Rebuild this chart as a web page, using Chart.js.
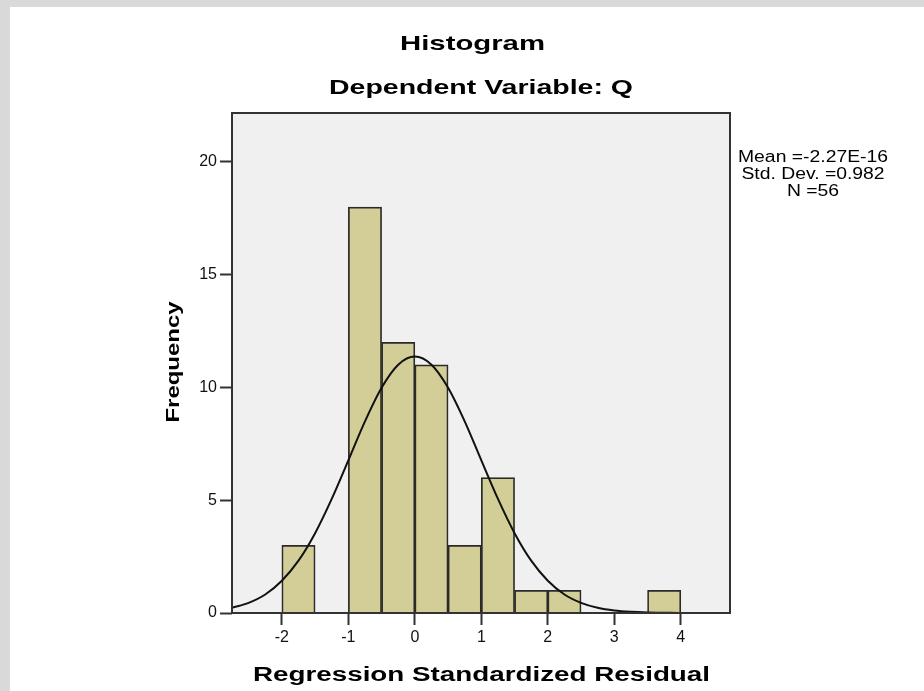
<!DOCTYPE html>
<html>
<head>
<meta charset="utf-8">
<title>Histogram</title>
<script src="https://cdn.jsdelivr.net/npm/chart.js@4.4.1/dist/chart.umd.min.js"></script>
<style>
  html, body { margin: 0; padding: 0; background: #fff; }
  #wrap { width: 924px; height: 691px; position: relative; }
</style>
</head>
<body>
<div id="wrap"><canvas id="histChart" width="924" height="691"></canvas></div>
<script>
// histogram bins (width 0.5), centres and counts
const binCenters = [-1.75, -0.75, -0.25, 0.25, 0.75, 1.25, 1.75, 2.25, 3.75];
const binCounts  = [3, 18, 12, 11, 3, 6, 1, 1, 1];

// normal curve, every 0.25
const curveX = [-2.75, -2.5, -2.25, -2, -1.75, -1.5, -1.25, -1, -0.75, -0.5, -0.25, 0,
                0.25, 0.5, 0.75, 1, 1.25, 1.5, 1.75, 2, 2.25, 2.5, 2.75, 3, 3.25, 3.5, 3.75, 4, 4.25, 4.5, 4.75];
const curveY = [0.23, 0.45, 0.82, 1.43, 2.32, 3.54, 5.06, 6.77, 8.50, 9.99, 11.01, 11.37,
                11.01, 9.99, 8.50, 6.77, 5.06, 3.54, 2.32, 1.43, 0.82, 0.45, 0.23, 0.11, 0.05, 0.02, 0.01, 0, 0, 0, 0];

const xTicks = [-2, -1, 0, 1, 2, 3, 4];
const yTicks = [0, 5, 10, 15, 20];

const titleText    = 'Histogram';
const subtitleText = 'Dependent Variable: Q';
const xTitleText   = 'Regression Standardized Residual';
const yTitleText   = 'Frequency';
const statsLines   = ['Mean =-2.27E-16', 'Std. Dev. =0.982', 'N =56'];

document.addEventListener('DOMContentLoaded', () => {
  const canvas = document.getElementById('histChart');
  if (!canvas) return;

  const FONT = 'Arial, "Liberation Sans", sans-serif';

  // draws text centred at (cx, cy), squeezed/stretched to a given width
  function fitText(ctx, text, cx, cy, width, font, angle) {
    ctx.save();
    ctx.font = font;
    const w = ctx.measureText(text).width;
    ctx.translate(cx, cy);
    if (angle) ctx.rotate(angle);
    ctx.scale(width / w, 1);
    ctx.textAlign = 'center';
    ctx.textBaseline = 'middle';
    ctx.fillStyle = '#000';
    ctx.fillText(text, 0, 0);
    ctx.restore();
  }

  const decor = {
    id: 'decor',
    beforeDraw(chart) {
      const { ctx, chartArea: a } = chart;
      ctx.save();
      ctx.fillStyle = '#d9d9d9';
      ctx.fillRect(0, 0, chart.width, chart.height);
      ctx.fillStyle = '#fff';
      ctx.fillRect(10, 7, chart.width - 10, chart.height - 7);
      ctx.fillStyle = '#f0f0f0';
      ctx.fillRect(a.left, a.top, a.right - a.left, a.bottom - a.top);
      ctx.restore();
    },
    afterDatasetsDraw(chart) {
      const { ctx, chartArea: a } = chart;
      ctx.save();
      ctx.strokeStyle = '#333';
      ctx.lineWidth = 2;
      ctx.strokeRect(a.left, a.top, a.right - a.left, a.bottom - a.top);
      ctx.restore();
    },
    afterDraw(chart) {
      const ctx = chart.ctx;
      fitText(ctx, titleText, 472.5, 44, 145, 'bold 21px ' + FONT);
      fitText(ctx, subtitleText, 481, 88, 304, 'bold 21px ' + FONT);
      fitText(ctx, xTitleText, 481.5, 675, 457, 'bold 20px ' + FONT);
      fitText(ctx, yTitleText, 174, 362, 121, 'bold 19px ' + FONT, -Math.PI / 2);

      // stats box, one shared stretch factor
      ctx.save();
      ctx.font = '16px ' + FONT;
      const k = 150 / ctx.measureText(statsLines[0]).width;
      ctx.restore();
      statsLines.forEach((line, i) => {
        ctx.save();
        ctx.font = '16px ' + FONT;
        const w = ctx.measureText(line).width * k;
        ctx.restore();
        fitText(ctx, line, 813, 158 + i * 17, w, '16px ' + FONT);
      });
    }
  };

  const tickGrid = {
    drawOnChartArea: false,
    drawTicks: true,
    tickLength: 12,
    tickColor: '#333',
    tickWidth: 2,
    offset: false
  };

  new Chart(canvas, {
    type: 'bar',
    data: {
      datasets: [
        {
          type: 'line',
          data: curveX.map((x, i) => ({ x, y: curveY[i] })),
          borderColor: '#111',
          borderWidth: 2,
          pointRadius: 0,
          cubicInterpolationMode: 'monotone',
          fill: false,
          order: 1
        },
        {
          type: 'bar',
          data: binCenters.map((x, i) => ({ x, y: binCounts[i] })),
          backgroundColor: 'rgb(211,206,151)',
          borderColor: '#2a2a2a',
          borderWidth: 1.7,
          barPercentage: 1,
          categoryPercentage: 1,
          order: 2
        }
      ]
    },
    options: {
      responsive: false,
      devicePixelRatio: 1,
      animation: false,
      layout: { padding: { left: 0, top: 113, right: 194, bottom: 0 } },
      plugins: { legend: { display: false }, tooltip: { enabled: false } },
      scales: {
        x: {
          type: 'linear',
          min: -2.75,
          max: 4.74,
          offset: false,
          grid: tickGrid,
          border: { display: false },
          afterBuildTicks: (scale) => { scale.ticks = xTicks.map(v => ({ value: v })); },
          afterFit: (scale) => { scale.height = 78; },
          ticks: { autoSkip: false, maxRotation: 0, padding: 3, color: '#111', font: { family: FONT, size: 16 } }
        },
        y: {
          min: 0,
          max: 22.17,
          grid: tickGrid,
          border: { display: false },
          afterBuildTicks: (scale) => { scale.ticks = yTicks.map(v => ({ value: v })); },
          afterFit: (scale) => { scale.width = 232; },
          ticks: { padding: 3, color: '#111', font: { family: FONT, size: 16 } }
        }
      }
    },
    plugins: [decor]
  });
});
</script>
</body>
</html>
